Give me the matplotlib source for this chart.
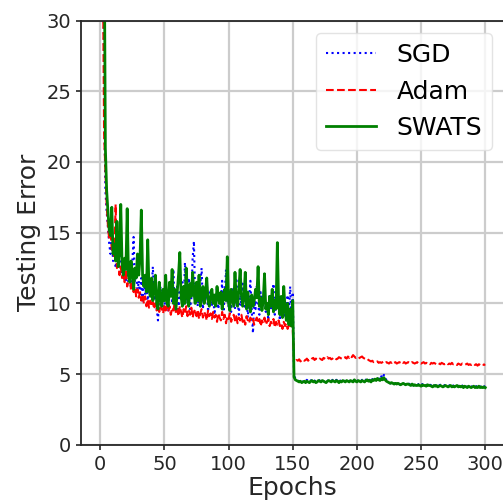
import numpy as np
import matplotlib
matplotlib.use("Agg")
import matplotlib.pyplot as plt

epochs = np.arange(1, 301)

sgd_early = [
    80, 45, 25, 18, 16.5, 15.4, 14.2, 13.5, 14.8, 13.0,
    14.0, 12.5, 13.5, 12.9, 13.8, 12.2, 13.0, 11.8, 12.5, 11.5,
    13.2, 11.4, 12.0, 11.0, 12.8, 14.7, 11.5, 12.2, 10.8, 11.6,
    10.5, 11.8, 10.2, 12.0, 10.6, 11.2, 10.0, 11.5, 10.4, 10.9,
    12.6, 10.2, 10.8, 9.6, 8.8, 10.5, 11.2, 9.8, 10.6, 9.5,
    11.0, 10.2, 9.4, 10.8, 11.6, 10.0, 12.4, 9.8, 10.5, 11.2,
    9.6, 10.8, 10.2, 11.5, 9.8, 12.9, 10.6, 10.0, 11.8, 9.6,
    10.4, 13.2, 14.4, 10.2, 11.0, 9.8, 10.6, 11.4, 12.5, 9.6,
    10.8, 10.2, 11.6, 9.4, 10.5, 11.0, 9.8, 10.6, 9.2, 10.4,
    11.2, 9.6, 10.8, 10.0, 11.6, 9.4, 10.6, 12.4, 10.2, 9.8,
    10.6, 9.4, 11.0, 10.2, 9.6, 11.8, 10.4, 9.2, 10.8, 9.8,
    11.4, 10.2, 9.6, 10.6, 9.0, 10.4, 11.6, 9.6, 7.9, 10.2,
    9.6, 11.2, 10.0, 9.2, 10.8, 9.6, 10.2, 11.0, 9.4, 10.0,
    8.8, 10.6, 9.6, 10.2, 11.4, 9.2, 10.0, 11.8, 9.6, 8.8,
    10.4, 9.4, 10.8, 9.0, 9.8, 10.6, 9.2, 11.2, 8.6, 10.8,
]
sgd_late = [
    4.9, 4.7, 4.6, 4.55, 4.5, 4.6, 4.5, 4.45, 4.55, 4.5,
    4.6, 4.5, 4.45, 4.55, 4.6, 4.5, 4.55, 4.45, 4.5, 4.6,
    4.55, 4.5, 4.6, 4.5, 4.55, 4.45, 4.5, 4.6, 4.55, 4.5,
    4.6, 4.5, 4.55, 4.6, 4.5, 4.45, 4.55, 4.5, 4.6, 4.55,
    4.5, 4.6, 4.55, 4.5, 4.6, 4.55, 4.5, 4.65, 4.55, 4.5,
    4.6, 4.55, 4.5, 4.6, 4.55, 4.5, 4.6, 4.7, 4.55, 4.6,
    4.5, 4.65, 4.6, 4.75, 4.6, 4.8, 4.7, 4.6, 4.85, 4.7,
    4.95, 4.7, 4.6, 4.5, 4.4, 4.35, 4.4, 4.35, 4.3, 4.35,
    4.3, 4.35, 4.3, 4.25, 4.3, 4.35, 4.3, 4.25, 4.3, 4.35,
    4.3, 4.25, 4.3, 4.2, 4.3, 4.25, 4.2, 4.3, 4.25, 4.2,
    4.3, 4.2, 4.25, 4.2, 4.3, 4.2, 4.25, 4.2, 4.15, 4.25,
    4.2, 4.25, 4.15, 4.2, 4.25, 4.2, 4.15, 4.2, 4.25, 4.2,
    4.15, 4.2, 4.25, 4.15, 4.2, 4.15, 4.2, 4.25, 4.15, 4.2,
    4.15, 4.2, 4.1, 4.2, 4.15, 4.1, 4.2, 4.15, 4.1, 4.15,
    4.2, 4.1, 4.15, 4.1, 4.2, 4.1, 4.15, 4.1, 4.15, 4.1,
]

adam_early = [
    60, 35, 22, 19.5, 17.0, 15.5, 14.5, 15.2, 13.8, 14.0,
    13.2, 17.0, 12.5, 13.0, 12.0, 12.6, 11.8, 12.2, 11.5, 12.4,
    11.2, 11.6, 12.0, 10.9, 11.4, 10.8, 11.2, 10.5, 11.0, 10.4,
    10.8, 10.2, 10.6, 10.0, 10.5, 9.8, 10.3, 9.7, 10.2, 9.8,
    10.1, 9.6, 10.0, 9.5, 9.9, 9.4, 10.0, 9.6, 9.3, 9.9,
    9.5, 10.1, 9.4, 9.8, 9.2, 9.7, 9.5, 10.0, 9.3, 9.6,
    9.1, 9.8, 9.4, 9.0, 9.6, 9.3, 9.8, 9.1, 9.5, 9.2,
    9.7, 9.0, 9.4, 9.6, 9.1, 9.5, 8.9, 9.3, 9.6, 9.0,
    9.4, 9.2, 8.8, 9.5, 9.1, 9.3, 8.9, 9.4, 9.0, 9.2,
    8.7, 9.3, 9.0, 8.8, 9.4, 8.9, 9.2, 8.6, 9.1, 8.9,
    9.3, 8.7, 9.0, 9.2, 8.8, 9.1, 8.6, 9.0, 8.8, 9.2,
    8.7, 8.9, 8.5, 9.1, 8.8, 8.6, 9.0, 8.7, 8.9, 8.5,
    8.8, 9.0, 8.6, 8.9, 8.4, 8.8, 8.6, 9.0, 8.5, 8.7,
    8.9, 8.4, 8.7, 8.6, 8.9, 8.3, 8.7, 8.5, 8.8, 8.4,
    8.6, 8.2, 8.7, 8.4, 8.6, 8.2, 8.5, 8.3, 8.6, 8.2,
]
adam_late = [
    6.0, 5.9, 6.0, 5.95, 6.05, 5.9, 6.0, 6.05, 5.95, 6.0,
    6.1, 5.95, 6.05, 6.0, 6.1, 6.15, 6.0, 6.1, 6.05, 6.0,
    6.1, 6.05, 6.0, 6.15, 6.1, 6.05, 6.2, 6.1, 6.15, 6.05,
    6.1, 6.2, 6.15, 6.05, 6.1, 6.2, 6.15, 6.1, 6.05, 6.15,
    6.2, 6.1, 6.25, 6.15, 6.3, 6.2, 6.35, 6.25, 6.15, 6.2,
    6.1, 6.15, 6.2, 6.25, 6.15, 6.1, 6.05, 6.1, 6.0, 5.95,
    5.9, 5.95, 5.85, 5.9, 5.85, 5.9, 5.8, 5.85, 5.8, 5.85,
    5.9, 5.8, 5.85, 5.8, 5.75, 5.85, 5.8, 5.9, 5.8, 5.85,
    5.75, 5.8, 5.85, 5.8, 5.9, 5.8, 5.85, 5.75, 5.8, 5.85,
    5.8, 5.75, 5.85, 5.8, 5.75, 5.8, 5.85, 5.75, 5.8, 5.75,
    5.8, 5.85, 5.75, 5.8, 5.75, 5.8, 5.7, 5.8, 5.75, 5.8,
    5.75, 5.7, 5.8, 5.75, 5.7, 5.8, 5.75, 5.7, 5.75, 5.8,
    5.7, 5.75, 5.7, 5.8, 5.7, 5.75, 5.7, 5.65, 5.75, 5.7,
    5.65, 5.75, 5.7, 5.65, 5.7, 5.75, 5.65, 5.7, 5.65, 5.7,
    5.75, 5.65, 5.7, 5.6, 5.7, 5.65, 5.6, 5.7, 5.65, 5.7,
]

swats_early = [
    75, 55, 38, 21, 18, 16.5, 15.2, 14.8, 16.8, 13.5,
    14.2, 13.0, 15.8, 12.6, 13.8, 17.0, 12.8, 12.0, 13.2, 12.4,
    16.7, 12.0, 11.5, 13.0, 12.2, 11.0, 12.5, 11.8, 13.5, 12.0,
    13.2, 16.6, 12.0, 11.2, 12.0, 10.8, 14.5, 11.0, 10.5, 11.8,
    10.2, 11.0, 12.0, 10.0, 9.6, 11.5, 10.4, 9.8, 11.0, 10.2,
    12.0, 10.0, 9.8, 11.5, 10.5, 12.4, 10.0, 11.0, 9.6, 10.8,
    12.0, 13.6, 10.5, 9.8, 11.2, 10.0, 12.5, 10.6, 9.8, 11.4,
    10.5, 12.2, 10.8, 10.0, 11.5, 10.2, 12.0, 9.8, 10.6, 11.2,
    10.0, 10.8, 11.8, 10.2, 9.8, 10.5, 11.0, 10.0, 10.6, 9.8,
    11.2, 10.4, 10.0, 10.8, 9.6, 10.5, 11.0, 10.2, 13.3, 10.0,
    9.5, 11.0, 10.4, 9.8, 12.2, 10.2, 9.8, 11.0, 12.4, 10.6,
    9.8, 10.5, 12.2, 9.6, 10.8, 10.0, 9.4, 10.6, 9.8, 10.2,
    11.0, 10.4, 12.6, 9.8, 10.4, 9.5, 10.2, 12.1, 9.6, 10.0,
    9.2, 10.5, 9.8, 11.0, 9.4, 10.2, 9.6, 14.3, 10.0, 9.2,
    10.5, 9.0, 11.2, 9.6, 8.8, 10.0, 8.5, 9.6, 8.4, 10.2,
]
swats_late = [
    4.8, 4.6, 4.55, 4.5, 4.45, 4.5, 4.4, 4.45, 4.5, 4.4,
    4.5, 4.45, 4.4, 4.5, 4.55, 4.45, 4.5, 4.4, 4.45, 4.55,
    4.5, 4.45, 4.55, 4.5, 4.45, 4.4, 4.5, 4.55, 4.5, 4.45,
    4.55, 4.5, 4.45, 4.55, 4.5, 4.4, 4.5, 4.45, 4.55, 4.5,
    4.45, 4.55, 4.5, 4.45, 4.55, 4.5, 4.45, 4.6, 4.5, 4.45,
    4.55, 4.5, 4.45, 4.55, 4.5, 4.45, 4.55, 4.6, 4.5, 4.55,
    4.45, 4.6, 4.55, 4.65, 4.55, 4.7, 4.6, 4.55, 4.7, 4.6,
    4.75, 4.6, 4.5, 4.45, 4.4, 4.35, 4.4, 4.35, 4.3, 4.35,
    4.3, 4.35, 4.3, 4.25, 4.3, 4.35, 4.3, 4.25, 4.3, 4.3,
    4.25, 4.2, 4.3, 4.2, 4.25, 4.2, 4.2, 4.25, 4.2, 4.15,
    4.25, 4.2, 4.2, 4.15, 4.25, 4.2, 4.2, 4.15, 4.1, 4.2,
    4.15, 4.2, 4.1, 4.15, 4.2, 4.15, 4.1, 4.15, 4.2, 4.15,
    4.1, 4.15, 4.2, 4.1, 4.15, 4.1, 4.15, 4.2, 4.1, 4.15,
    4.1, 4.15, 4.05, 4.15, 4.1, 4.05, 4.15, 4.1, 4.05, 4.1,
    4.15, 4.05, 4.1, 4.05, 4.15, 4.05, 4.1, 4.05, 4.1, 4.05,
]

sgd = sgd_early + sgd_late
adam = adam_early + adam_late
swats = swats_early + swats_late

x_ticks = [0, 50, 100, 150, 200, 250, 300]
y_ticks = [0, 5, 10, 15, 20, 25, 30]

fig = plt.figure(figsize=(5.03, 5.01), dpi=100)
ax = fig.add_axes([0.161, 0.112, 0.842, 0.847])

ax.plot(epochs, sgd, color='blue', linestyle=':', linewidth=1.5, label='SGD')
ax.plot(epochs, adam, color='red', linestyle='--', linewidth=1.5, label='Adam')
ax.plot(epochs, swats, color='green', linestyle='-', linewidth=2.0, label='SWATS')

ax.set_xlim(-15, 315)
ax.set_ylim(0, 30)
ax.set_xticks(x_ticks)
ax.set_yticks(y_ticks)
ax.tick_params(labelsize=14, colors='#262626', width=1.2)
ax.grid(True, color='#cccccc', linewidth=1.6)
ax.set_axisbelow(True)
for s in ax.spines.values():
    s.set_linewidth(1.3)
    s.set_color('#262626')
ax.set_xlabel('Epochs', fontsize=18, color='#262626', labelpad=2)
ax.set_ylabel('Testing Error', fontsize=18, color='#262626', labelpad=4)
leg = ax.legend(loc='upper right', fontsize=18, frameon=True, fancybox=True)
leg.get_frame().set_edgecolor('#dddddd')

fig.savefig('out.png', dpi=100)
